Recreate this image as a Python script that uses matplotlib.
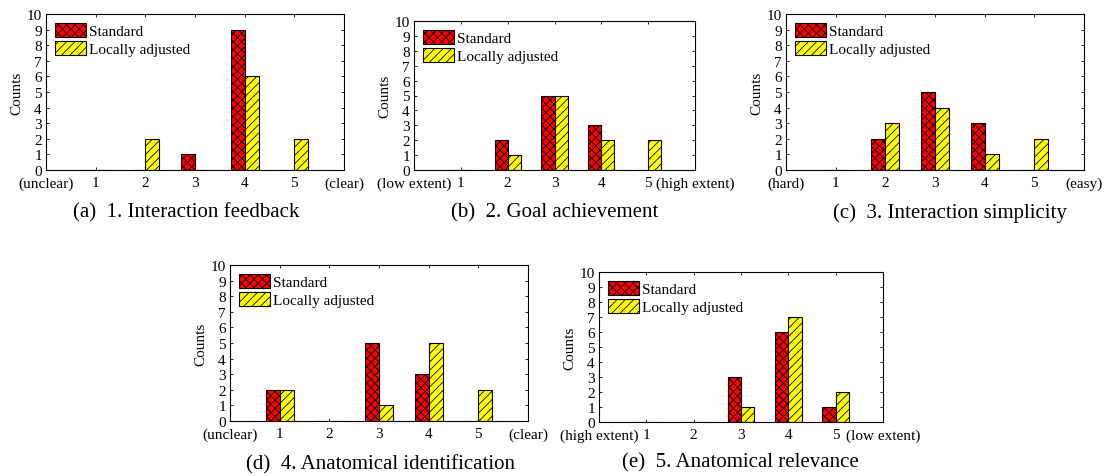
import matplotlib
matplotlib.use("Agg")
import matplotlib.pyplot as plt
import numpy as np

plt.rcParams["font.family"] = ["Liberation Serif", "DejaVu Serif"]
plt.rcParams["hatch.linewidth"] = 0.6

scores = [1, 2, 3, 4, 5]

# counts per score for each question
std_a = [0, 0, 1, 9, 0]
adj_a = [0, 2, 0, 6, 2]
std_b = [0, 2, 5, 3, 0]
adj_b = [0, 1, 5, 2, 2]
std_c = [0, 2, 5, 3, 0]
adj_c = [0, 3, 4, 1, 2]
std_d = [2, 0, 5, 3, 0]
adj_d = [2, 0, 1, 5, 2]
std_e = [0, 0, 3, 6, 1]
adj_e = [0, 0, 1, 7, 2]

ends_a = ["(unclear)", "(clear)"]
ends_b = ["(low extent)", "(high extent)"]
ends_c = ["(hard)", "(easy)"]
ends_d = ["(unclear)", "(clear)"]
ends_e = ["(high extent)", "(low extent)"]

captions = [
    "(a)  1. Interaction feedback",
    "(b)  2. Goal achievement",
    "(c)  3. Interaction simplicity",
    "(d)  4. Anatomical identification",
    "(e)  5. Anatomical relevance",
]

W, H = 1110, 477
fig = plt.figure(figsize=(W / 100, H / 100), dpi=100)


def px_axes(x0, x1, y0, y1):
    return fig.add_axes([x0 / W, 1 - y1 / H, (x1 - x0) / W, (y1 - y0) / H])


def draw_panel(ax, std, adj, ends):
    x = np.array(scores)
    w = 0.28
    ax.bar(x - w / 2, std, w, color="#ff0000", edgecolor="black", hatch="xxxx",
           linewidth=0.8, label="Standard")
    ax.bar(x + w / 2, adj, w, color="#ffff00", edgecolor="black", hatch="////",
           linewidth=0.8, label="Locally adjusted")
    ax.set_xlim(0, 6)
    ax.set_ylim(0, 10)
    ax.set_yticks(range(0, 11))
    ax.set_xticks(range(0, 7))
    ax.set_xticklabels([ends[0]] + [str(s) for s in scores] + [ends[1]])
    ax.tick_params(direction="in", top=True, right=True, length=2.5, width=0.6,
                   labelsize=11, pad=3)
    ax.tick_params(axis="x", pad=4.5)
    ax.set_ylabel("Counts", fontsize=11, labelpad=2)
    for s in ax.spines.values():
        s.set_linewidth(0.8)
    ax.legend(loc="upper left", frameon=False, fontsize=11, handlelength=2.0,
              handleheight=1.0, labelspacing=0.2, handletextpad=0.2,
              borderpad=0.2, borderaxespad=0.4)


panels = [
    (px_axes(46, 344, 15, 171), std_a, adj_a, ends_a),
    (px_axes(414, 695, 22, 171), std_b, adj_b, ends_b),
    (px_axes(786, 1084, 15, 171), std_c, adj_c, ends_c),
    (px_axes(230, 528, 266, 422), std_d, adj_d, ends_d),
    (px_axes(599, 883, 273, 423), std_e, adj_e, ends_e),
]
for ax, s, a, e in panels:
    draw_panel(ax, s, a, e)

cap_pos = [(186, 213), (555, 213), (950, 213), (380, 465), (740, 463)]
for (cx, cy), cap in zip(cap_pos, captions):
    fig.text(cx / W, 1 - cy / H, cap, ha="center", va="center", fontsize=15)

fig.savefig("out.png", dpi=100)
